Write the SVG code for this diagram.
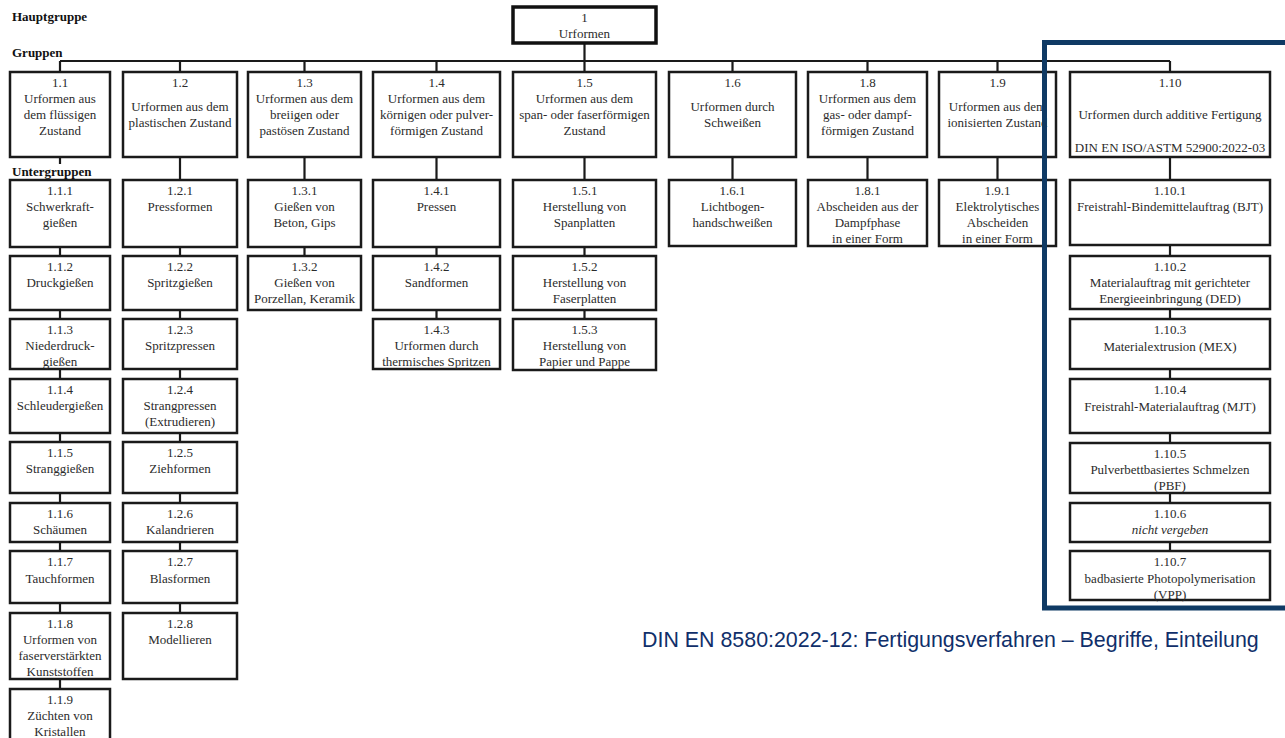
<svg xmlns="http://www.w3.org/2000/svg" width="1285" height="738" viewBox="0 0 1285 738">
<style>
.box{fill:#fff;stroke:#1a1a1a;stroke-width:2.5}
.root{fill:#fff;stroke:#111;stroke-width:3.5}
.t{font-family:"Liberation Serif","DejaVu Serif",serif;font-size:13px;fill:#2b2b2b;text-anchor:middle}
.it{font-style:italic}
.hdr{font-family:"Liberation Serif","DejaVu Serif",serif;font-size:13px;font-weight:bold;fill:#111}
.con{stroke:#1a1a1a;stroke-width:2.2;fill:none}
.blue{fill:none;stroke:#0f3a64;stroke-width:5}
.cap{font-family:"Liberation Sans",Arial,sans-serif;font-size:21.4px;fill:#102f6a}
</style>
<rect width="1285" height="738" fill="#fff"/>
<g id="labels">
<text class="hdr" x="12" y="21">Hauptgruppe</text>
<text class="hdr" x="12" y="57">Gruppen</text>
<text class="hdr" x="12" y="176">Untergruppen</text>
</g>
<g id="connectors">
<path class="con" d="M584.5,43V61M60,61H1170"/>
<path class="con" d="M60,61V72M180,61V72M304.5,61V72M436.5,61V72M584.5,61V72M732.5,61V72M867.5,61V72M997.5,61V72M1170,61V72"/>
<path class="con" d="M60,157V164M60,247V256M60,310V319M60,369V379M60,433V442M60,493V503M60,542V551M60,603V613M60,679V689"/>
<path class="con" d="M180,157V180M180,247V256M180,310V319M180,369V379M180,433V442M180,493V503M180,542V551M180,603V613"/>
<path class="con" d="M304.5,157V180M304.5,247V256"/>
<path class="con" d="M436.5,157V180M436.5,247V256M436.5,310V319"/>
<path class="con" d="M584.5,157V180M584.5,247V256M584.5,310V319"/>
<path class="con" d="M732.5,157V180M867.5,157V180M997.5,157V180"/>
<path class="con" d="M1170,157V180M1170,245V256M1170,309V319M1170,369V379M1170,433V443M1170,493V503M1170,542V551"/>
</g>
<g id="n1"><rect class="root" x="513" y="7" width="143" height="36"/><text class="t" x="584.5" y="21.5">1<tspan x="584.5" dy="16">Urformen</tspan></text></g>
<g id="n1_1"><rect class="box" x="10" y="72" width="100" height="85"/><text class="t" x="60" y="86.5">1.1<tspan x="60" dy="16.3">Urformen aus</tspan><tspan x="60" dy="16.3">dem flüssigen</tspan><tspan x="60" dy="16.3">Zustand</tspan></text></g>
<g id="n1_2"><rect class="box" x="123" y="72" width="114" height="85"/><text class="t" x="180" y="86.5">1.2<tspan x="180" dy="24">Urformen aus dem</tspan><tspan x="180" dy="16.3">plastischen Zustand</tspan></text></g>
<g id="n1_3"><rect class="box" x="248" y="72" width="113" height="85"/><text class="t" x="304.5" y="86.5">1.3<tspan x="304.5" dy="16.3">Urformen aus dem</tspan><tspan x="304.5" dy="16.3">breiigen oder</tspan><tspan x="304.5" dy="16.3">pastösen Zustand</tspan></text></g>
<g id="n1_4"><rect class="box" x="373" y="72" width="127" height="85"/><text class="t" x="436.5" y="86.5">1.4<tspan x="436.5" dy="16.3">Urformen aus dem</tspan><tspan x="436.5" dy="16.3">körnigen oder pulver-</tspan><tspan x="436.5" dy="16.3">förmigen Zustand</tspan></text></g>
<g id="n1_5"><rect class="box" x="513" y="72" width="143" height="85"/><text class="t" x="584.5" y="86.5">1.5<tspan x="584.5" dy="16.3">Urformen aus dem</tspan><tspan x="584.5" dy="16.3">span- oder faserförmigen</tspan><tspan x="584.5" dy="16.3">Zustand</tspan></text></g>
<g id="n1_6"><rect class="box" x="669" y="72" width="127" height="85"/><text class="t" x="732.5" y="86.5">1.6<tspan x="732.5" dy="24">Urformen durch</tspan><tspan x="732.5" dy="16.3">Schweißen</tspan></text></g>
<g id="n1_8"><rect class="box" x="808" y="72" width="119" height="85"/><text class="t" x="867.5" y="86.5">1.8<tspan x="867.5" dy="16.3">Urformen aus dem</tspan><tspan x="867.5" dy="16.3">gas- oder dampf-</tspan><tspan x="867.5" dy="16.3">förmigen Zustand</tspan></text></g>
<g id="n1_9"><rect class="box" x="939" y="72" width="117" height="85"/><text class="t" x="997.5" y="86.5">1.9<tspan x="997.5" dy="24">Urformen aus dem</tspan><tspan x="997.5" dy="16.3">ionisierten Zustand</tspan></text></g>
<g id="n1_10"><rect class="box" x="1070" y="72" width="200" height="85"/><text class="t" x="1170" y="86.5">1.10<tspan x="1170" dy="32">Urformen durch additive Fertigung</tspan><tspan x="1170" dy="33">DIN EN ISO/ASTM 52900:2022-03</tspan></text></g>

<g id="n1_1_1"><rect class="box" x="10" y="180" width="100" height="67"/><text class="t" x="60" y="194.5">1.1.1<tspan x="60" dy="16.3">Schwerkraft-</tspan><tspan x="60" dy="16.3">gießen</tspan></text></g>
<g id="n1_1_2"><rect class="box" x="10" y="256" width="100" height="54"/><text class="t" x="60" y="270.5">1.1.2<tspan x="60" dy="16.5">Druckgießen</tspan></text></g>
<g id="n1_1_3"><rect class="box" x="10" y="319" width="100" height="50"/><text class="t" x="60" y="333.5">1.1.3<tspan x="60" dy="16.3">Niederdruck-</tspan><tspan x="60" dy="16.3">gießen</tspan></text></g>
<g id="n1_1_4"><rect class="box" x="10" y="379" width="100" height="54"/><text class="t" x="60" y="393.5">1.1.4<tspan x="60" dy="16.5">Schleudergießen</tspan></text></g>
<g id="n1_1_5"><rect class="box" x="10" y="442" width="100" height="51"/><text class="t" x="60" y="456.5">1.1.5<tspan x="60" dy="16.5">Stranggießen</tspan></text></g>
<g id="n1_1_6"><rect class="box" x="10" y="503" width="100" height="39"/><text class="t" x="60" y="517.5">1.1.6<tspan x="60" dy="16.5">Schäumen</tspan></text></g>
<g id="n1_1_7"><rect class="box" x="10" y="551" width="100" height="52"/><text class="t" x="60" y="566">1.1.7<tspan x="60" dy="17">Tauchformen</tspan></text></g>
<g id="n1_1_8"><rect class="box" x="10" y="613" width="100" height="66"/><text class="t" x="60" y="627.5">1.1.8<tspan x="60" dy="16.3">Urformen von</tspan><tspan x="60" dy="16.3">faserverstärkten</tspan><tspan x="60" dy="16.3">Kunststoffen</tspan></text></g>
<g id="n1_1_9"><rect class="box" x="10" y="689" width="100" height="60"/><text class="t" x="60" y="703.5">1.1.9<tspan x="60" dy="16.3">Züchten von</tspan><tspan x="60" dy="16.3">Kristallen</tspan></text></g>

<g id="n1_2_1"><rect class="box" x="123" y="180" width="114" height="67"/><text class="t" x="180" y="194.5">1.2.1<tspan x="180" dy="16.3">Pressformen</tspan></text></g>
<g id="n1_2_2"><rect class="box" x="123" y="256" width="114" height="54"/><text class="t" x="180" y="270.5">1.2.2<tspan x="180" dy="16.5">Spritzgießen</tspan></text></g>
<g id="n1_2_3"><rect class="box" x="123" y="319" width="114" height="50"/><text class="t" x="180" y="333.5">1.2.3<tspan x="180" dy="16.3">Spritzpressen</tspan></text></g>
<g id="n1_2_4"><rect class="box" x="123" y="379" width="114" height="54"/><text class="t" x="180" y="393.5">1.2.4<tspan x="180" dy="16.3">Strangpressen</tspan><tspan x="180" dy="16.3">(Extrudieren)</tspan></text></g>
<g id="n1_2_5"><rect class="box" x="123" y="442" width="114" height="51"/><text class="t" x="180" y="456.5">1.2.5<tspan x="180" dy="16.5">Ziehformen</tspan></text></g>
<g id="n1_2_6"><rect class="box" x="123" y="503" width="114" height="39"/><text class="t" x="180" y="517.5">1.2.6<tspan x="180" dy="16.5">Kalandrieren</tspan></text></g>
<g id="n1_2_7"><rect class="box" x="123" y="551" width="114" height="52"/><text class="t" x="180" y="566">1.2.7<tspan x="180" dy="17">Blasformen</tspan></text></g>
<g id="n1_2_8"><rect class="box" x="123" y="613" width="114" height="66"/><text class="t" x="180" y="627.5">1.2.8<tspan x="180" dy="16.3">Modellieren</tspan></text></g>

<g id="n1_3_1"><rect class="box" x="248" y="180" width="113" height="67"/><text class="t" x="304.5" y="194.5">1.3.1<tspan x="304.5" dy="16.3">Gießen von</tspan><tspan x="304.5" dy="16.3">Beton, Gips</tspan></text></g>
<g id="n1_3_2"><rect class="box" x="248" y="256" width="113" height="54"/><text class="t" x="304.5" y="270.5">1.3.2<tspan x="304.5" dy="16.3">Gießen von</tspan><tspan x="304.5" dy="16.3">Porzellan, Keramik</tspan></text></g>

<g id="n1_4_1"><rect class="box" x="373" y="180" width="127" height="67"/><text class="t" x="436.5" y="194.5">1.4.1<tspan x="436.5" dy="16.3">Pressen</tspan></text></g>
<g id="n1_4_2"><rect class="box" x="373" y="256" width="127" height="54"/><text class="t" x="436.5" y="270.5">1.4.2<tspan x="436.5" dy="16.5">Sandformen</tspan></text></g>
<g id="n1_4_3"><rect class="box" x="373" y="319" width="127" height="50"/><text class="t" x="436.5" y="333.5">1.4.3<tspan x="436.5" dy="16.3">Urformen durch</tspan><tspan x="436.5" dy="16.3">thermisches Spritzen</tspan></text></g>

<g id="n1_5_1"><rect class="box" x="513" y="180" width="143" height="67"/><text class="t" x="584.5" y="194.5">1.5.1<tspan x="584.5" dy="16.3">Herstellung von</tspan><tspan x="584.5" dy="16.3">Spanplatten</tspan></text></g>
<g id="n1_5_2"><rect class="box" x="513" y="256" width="143" height="54"/><text class="t" x="584.5" y="270.5">1.5.2<tspan x="584.5" dy="16.3">Herstellung von</tspan><tspan x="584.5" dy="16.3">Faserplatten</tspan></text></g>
<g id="n1_5_3"><rect class="box" x="513" y="319" width="143" height="51"/><text class="t" x="584.5" y="333.5">1.5.3<tspan x="584.5" dy="16.3">Herstellung von</tspan><tspan x="584.5" dy="16.3">Papier und Pappe</tspan></text></g>

<g id="n1_6_1"><rect class="box" x="669" y="180" width="127" height="66"/><text class="t" x="732.5" y="194.5">1.6.1<tspan x="732.5" dy="16.3">Lichtbogen-</tspan><tspan x="732.5" dy="16.3">handschweißen</tspan></text></g>
<g id="n1_8_1"><rect class="box" x="808" y="180" width="119" height="66"/><text class="t" x="867.5" y="194.5">1.8.1<tspan x="867.5" dy="16.3">Abscheiden aus der</tspan><tspan x="867.5" dy="16.3">Dampfphase</tspan><tspan x="867.5" dy="16.3">in einer Form</tspan></text></g>
<g id="n1_9_1"><rect class="box" x="939" y="180" width="117" height="66"/><text class="t" x="997.5" y="194.5">1.9.1<tspan x="997.5" dy="16.3">Elektrolytisches</tspan><tspan x="997.5" dy="16.3">Abscheiden</tspan><tspan x="997.5" dy="16.3">in einer Form</tspan></text></g>

<g id="n1_10_1"><rect class="box" x="1070" y="180" width="200" height="65"/><text class="t" x="1170" y="194.5">1.10.1<tspan x="1170" dy="16.3">Freistrahl-Bindemittelauftrag (BJT)</tspan></text></g>
<g id="n1_10_2"><rect class="box" x="1070" y="256" width="200" height="53"/><text class="t" x="1170" y="270.5">1.10.2<tspan x="1170" dy="16.3">Materialauftrag mit gerichteter</tspan><tspan x="1170" dy="16.3">Energieeinbringung (DED)</tspan></text></g>
<g id="n1_10_3"><rect class="box" x="1070" y="319" width="200" height="50"/><text class="t" x="1170" y="334">1.10.3<tspan x="1170" dy="17">Materialextrusion (MEX)</tspan></text></g>
<g id="n1_10_4"><rect class="box" x="1070" y="379" width="200" height="54"/><text class="t" x="1170" y="394">1.10.4<tspan x="1170" dy="17">Freistrahl-Materialauftrag (MJT)</tspan></text></g>
<g id="n1_10_5"><rect class="box" x="1070" y="443" width="200" height="50"/><text class="t" x="1170" y="457.5">1.10.5<tspan x="1170" dy="16.3">Pulverbettbasiertes Schmelzen</tspan><tspan x="1170" dy="16.3">(PBF)</tspan></text></g>
<g id="n1_10_6"><rect class="box" x="1070" y="503" width="200" height="39"/><text class="t" x="1170" y="517.5">1.10.6<tspan class="it" x="1170" dy="16.5">nicht vergeben</tspan></text></g>
<g id="n1_10_7"><rect class="box" x="1070" y="551" width="200" height="49"/><text class="t" x="1170" y="566">1.10.7<tspan x="1170" dy="17">badbasierte Photopolymerisation</tspan><tspan x="1170" dy="16">(VPP)</tspan></text></g>

<g id="highlight"><path class="blue" d="M1292,42.5H1044.5V608H1292"/></g>
<g id="caption"><text class="cap" x="642" y="647">DIN EN 8580:2022-12: Fertigungsverfahren – Begriffe, Einteilung</text></g>
</svg>
